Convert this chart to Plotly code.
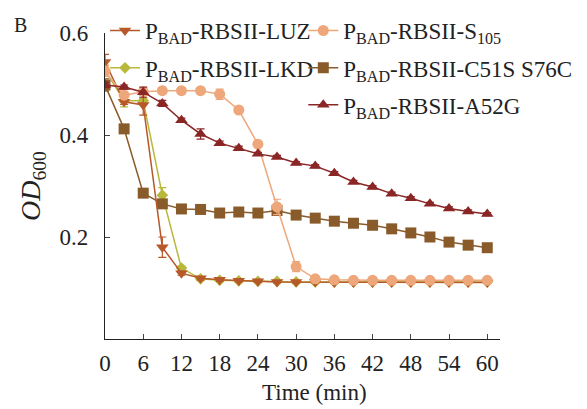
import plotly.graph_objects as go

time = [0, 3, 6, 9, 12, 15, 18, 21, 24, 27, 30, 33, 36, 39, 42, 45, 48, 51, 54, 57, 60]

luz = [0.543, 0.465, 0.459, 0.180, 0.129, 0.119, 0.116, 0.114, 0.113, 0.112, 0.112, 0.112, 0.111, 0.111, 0.111, 0.111, 0.111, 0.111, 0.111, 0.111, 0.111]
luz_err = [0.015, 0.005, 0.02, 0.02, 0.004, 0.003, 0.003, 0.002, 0.002, 0.002, 0.002, 0.002, 0.002, 0.002, 0.002, 0.002, 0.002, 0.002, 0.002, 0.002, 0.002]

lkd = [0.527, 0.467, 0.467, 0.282, 0.139, 0.118, 0.115, 0.114, 0.113, 0.113, 0.112, 0.112, 0.112, 0.112, 0.112, 0.112, 0.112, 0.112, 0.112, 0.112, 0.112]
lkd_err = [0.01, 0.012, 0.005, 0.015, 0.004, 0.003, 0.002, 0.002, 0.002, 0.002, 0.002, 0.002, 0.002, 0.002, 0.002, 0.002, 0.002, 0.002, 0.002, 0.002, 0.002]

s105 = [0.525, 0.478, 0.485, 0.487, 0.487, 0.487, 0.480, 0.449, 0.382, 0.259, 0.142, 0.118, 0.116, 0.115, 0.115, 0.115, 0.115, 0.115, 0.115, 0.115, 0.115]
s105_err = [0.01, 0.005, 0.004, 0.004, 0.003, 0.003, 0.01, 0.004, 0.005, 0.015, 0.01, 0.004, 0.003, 0.003, 0.003, 0.003, 0.003, 0.003, 0.003, 0.003, 0.003]

c51s = [0.498, 0.412, 0.286, 0.265, 0.255, 0.254, 0.247, 0.249, 0.247, 0.252, 0.243, 0.237, 0.231, 0.227, 0.223, 0.216, 0.208, 0.200, 0.190, 0.184, 0.179]
c51s_err = [0.012, 0.005, 0.004, 0.006, 0.003, 0.003, 0.003, 0.003, 0.003, 0.008, 0.003, 0.003, 0.003, 0.003, 0.003, 0.003, 0.003, 0.003, 0.003, 0.003, 0.003]

a52g = [0.498, 0.494, 0.484, 0.462, 0.429, 0.402, 0.384, 0.374, 0.363, 0.357, 0.345, 0.339, 0.325, 0.308, 0.298, 0.285, 0.276, 0.265, 0.256, 0.250, 0.245]
a52g_err = [0.005, 0.004, 0.01, 0.006, 0.004, 0.01, 0.004, 0.004, 0.003, 0.003, 0.003, 0.003, 0.003, 0.003, 0.003, 0.003, 0.003, 0.003, 0.003, 0.003, 0.003]

x_ticks = list(range(0, 61, 6))
y_ticks = [0.2, 0.4, 0.6]
y_ticktext = ["0.2", "0.4", "0.6"]

# drawing order (bottom to top): LKD, C51S, LUZ, S105, A52G
series = [
    ("P<sub>BAD</sub>-RBSII-LKD", lkd, lkd_err, "#B8B83A", "diamond", 9, "legend3"),
    ("P<sub>BAD</sub>-RBSII-C51S S76C", c51s, c51s_err, "#8A5B2A", "square", 11, "legend4"),
    ("P<sub>BAD</sub>-RBSII-LUZ", luz, luz_err, "#B6582A", "triangle-down", 11, "legend"),
    ("P<sub>BAD</sub>-RBSII-S<sub>105</sub>", s105, s105_err, "#EDA77B", "circle", 11, "legend2"),
    ("P<sub>BAD</sub>-RBSII-A52G", a52g, a52g_err, "#8B2626", "triangle-up", 11, "legend5"),
]

FONT = "Liberation Serif, Times New Roman, serif"
INK = "#222"

fig = go.Figure()
for name, vals, err, color, sym, size, leg in series:
    fig.add_trace(go.Scatter(
        x=time, y=vals, name=name, mode="lines+markers",
        line=dict(color=color, width=1.5),
        marker=dict(symbol=sym, size=size, color=color),
        error_y=dict(type="data", array=err, visible=True, color=color, thickness=1.2, width=4),
        legend=leg,
    ))

leg_common = dict(orientation="h", font=dict(family=FONT, size=23, color=INK),
                  bgcolor="rgba(0,0,0,0)", itemwidth=30,
                  xanchor="left", yanchor="middle", itemsizing="trace")

c1, c2 = 0.0, 0.502
r1, r2, r3 = 1.008, 0.886, 0.765

# the page body adds an 8px offset; margins compensate so the plot sits at page x 105-500, y 33-339
L, T, R, B = 97, 25, 95, 78
PW, PH = 587 - L - R, 409 - T - B

fig.update_layout(
    width=587, height=409,
    margin=dict(l=L, r=R, t=T, b=B, autoexpand=False),
    paper_bgcolor="white", plot_bgcolor="white",
    font=dict(family=FONT, size=22, color=INK),
    showlegend=True,
    legend=dict(x=c1, y=r1, **leg_common),
    legend2=dict(x=c2, y=r1, **leg_common),
    legend3=dict(x=c1, y=r2, **leg_common),
    legend4=dict(x=c2, y=r2, **leg_common),
    legend5=dict(x=c2, y=r3, **leg_common),
    xaxis=dict(range=[0, 62], tickvals=x_ticks, ticks="inside", ticklen=5,
               showline=True, linecolor=INK, linewidth=1.2, showgrid=False, zeroline=False,
               tickfont=dict(family=FONT, size=23), ticklabelstandoff=3),
    yaxis=dict(range=[0, 0.6], tickvals=y_ticks, ticktext=y_ticktext,
               ticks="inside", ticklen=5,
               showline=True, linecolor=INK, linewidth=1.2, showgrid=False, zeroline=False,
               tickfont=dict(family=FONT, size=23), ticklabelstandoff=11,
               title=dict(text="<i>OD</i><sub>600</sub>", font=dict(family=FONT, size=28), standoff=10)),
    annotations=[
        dict(text="B", x=(4 - L) / PW, y=(PH + T - 4) / PH, xref="paper", yref="paper",
             xanchor="left", yanchor="top", showarrow=False,
             font=dict(family=FONT, size=20, color=INK)),
        dict(text="Time (min)", x=(306 - L) / PW, y=(PH + T - 384) / PH, xref="paper", yref="paper",
             xanchor="center", yanchor="middle", showarrow=False,
             font=dict(family=FONT, size=23, color=INK)),
    ],
)

fig.write_html("out.html")
